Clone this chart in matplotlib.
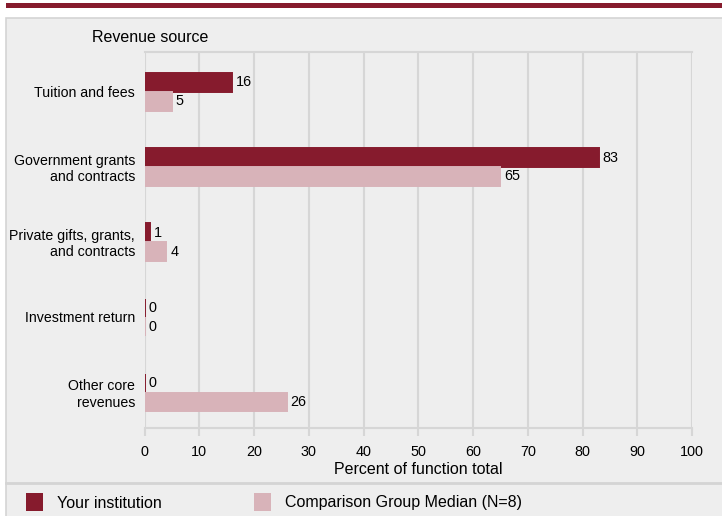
import numpy as np
import matplotlib
matplotlib.use('Agg')
from matplotlib import pyplot as plt
from matplotlib.patches import Rectangle

plt.rcParams['font.family'] = ['Liberation Sans', 'DejaVu Sans']

categories = ['Tuition and fees', 'Government grants\nand contracts',
              'Private gifts, grants,\nand contracts', 'Investment return',
              'Other core\nrevenues']
yours = [16, 83, 1, 0, 0]
comparison = [5, 65, 4, 0, 26]
series_names = ['Your institution', 'Comparison Group Median (N=8)']
xticks = np.arange(0, 101, 10)

dark = '#861b2d'
light = '#d8b3b9'
panel = '#eeeeee'
grid = '#d6d6d6'

fig = plt.figure(figsize=(7.22, 5.16), dpi=100)
fig.patch.set_facecolor('white')

# background panel + top band + separator (behind the axes)
fig.add_artist(Rectangle((6/722, -0.01), 1, 1.01 - 18/516, transform=fig.transFigure,
                         facecolor=panel, edgecolor='#d4d4d4', linewidth=1.2, zorder=-10))
fig.add_artist(Rectangle((6/722, 1 - 8/516), 1, 5/516, transform=fig.transFigure,
                         facecolor=dark, edgecolor='none', zorder=-10))
fig.add_artist(plt.Line2D([6/722, 1], [1 - 482.5/516] * 2, transform=fig.transFigure,
                          color='#d4d4d4', linewidth=2, zorder=-9))

ax = fig.add_axes([144.5/722, 1 - 428/516, 547.5/722, 376/516])
ax.set_facecolor(panel)

y = np.arange(len(categories))
h = 0.25
off = 0.03
ax.barh(y - h/2 + off, yours, height=h, color=dark, edgecolor=dark, linewidth=1.4, zorder=3)
ax.barh(y + h/2 + off, comparison, height=h, color=light, edgecolor=light, linewidth=1.4, zorder=3)

for i in range(len(categories)):
    ax.text(yours[i] + 0.7, y[i] - h/2 + off, str(yours[i]), va='center', ha='left', fontsize=10.4)
    ax.text(comparison[i] + 0.7, y[i] + h/2 + off, str(comparison[i]), va='center', ha='left', fontsize=10.4)

ax.set_xlim(0, 100)
ax.set_ylim(len(categories) - 0.5, -0.5)
ax.set_xticks(xticks)
ax.set_xticklabels([str(t) for t in xticks], fontsize=10.4)
ax.set_yticks(y + 0.02)
ax.set_yticklabels(categories, fontsize=10.2, linespacing=1.2)
ax.tick_params(axis='y', length=0, pad=6.8)
ax.tick_params(axis='x', length=6, width=1.5, color=grid, pad=6.5)
ax.grid(axis='x', color=grid, linewidth=1.5, zorder=0)
for s in ['left', 'right']:
    ax.spines[s].set_visible(False)
for s in ['top', 'bottom']:
    ax.spines[s].set_color(grid)
    ax.spines[s].set_linewidth(1.5)
ax.set_xlabel('Percent of function total', fontsize=11.5, labelpad=2)

fig.text(92/722, 1 - 37/516, 'Revenue source', fontsize=11.5, va='center', ha='left')

# legend
for x0, name, c in [(26, series_names[0], dark), (254, series_names[1], light)]:
    fig.add_artist(Rectangle((x0/722, 1 - 511/516), 17/722, 18/516,
                             transform=fig.transFigure, facecolor=c, edgecolor='none'))
    fig.text((x0 + 31)/722, 1 - 503/516, name, fontsize=11.5, va='center', ha='left')

plt.savefig('out.png', dpi=100, facecolor=fig.get_facecolor())
